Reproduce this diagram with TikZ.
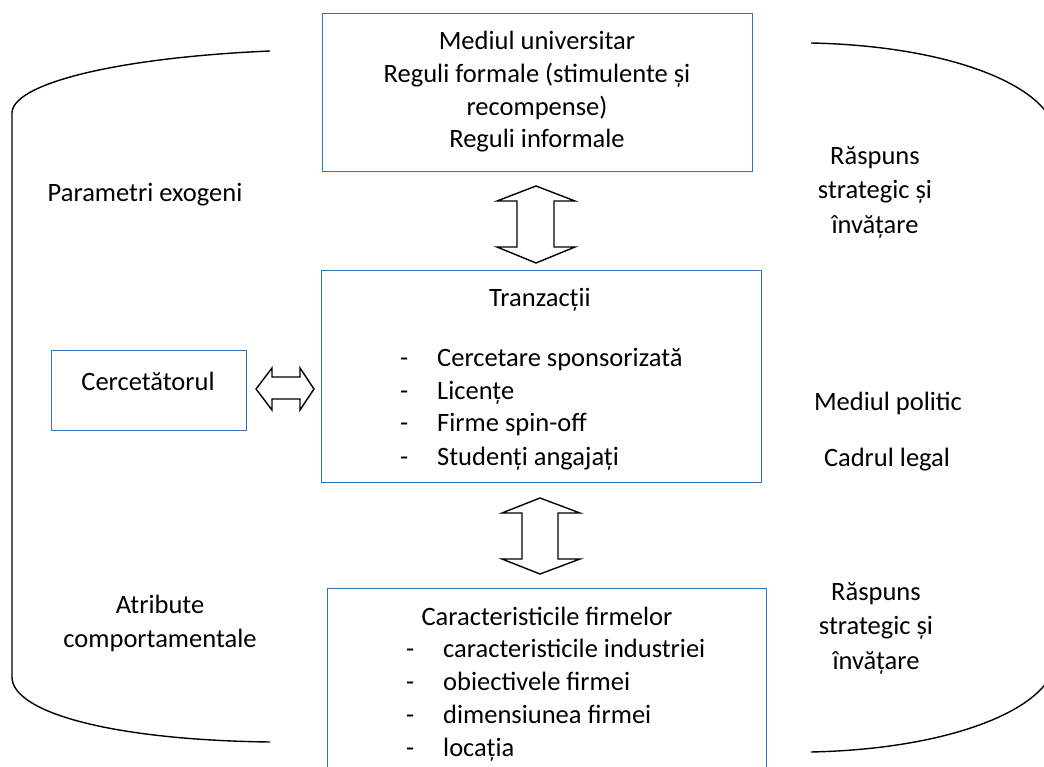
\documentclass[tikz,border=0pt]{standalone}
\usepackage{fontspec}
\setmainfont{Carlito}
\definecolor{boxblue}{RGB}{46,117,182}

\begin{document}
\begin{tikzpicture}[x=1pt, y=-1pt,
	box/.style={draw=boxblue, line width=1pt, anchor=north west},
	txt/.style={inner sep=0pt, align=center, font=\fontsize{26.5}{33}\selectfont},
	bracket/.style={line width=1.4pt},
	blockarrow/.style={draw, line width=1.4pt, fill=white, line join=miter}]
	\useasboundingbox (0,0) rectangle (1044,767);
	\clip (0,0) rectangle (1044,767);
	%\draw[help lines] (0,0) grid[step=50] (1044,767);
	% boxes
	\node[box, minimum width=430, minimum height=158] (univ) at (322,13) {};
	\node[box, minimum width=440, minimum height=212] (tranz) at (321,270) {};
	\node[box, minimum width=195, minimum height=80] (cerc) at (51,350) {};
	\node[box, minimum width=439, minimum height=250] (firme) at (327,588) {};
	% texts
	\node[txt, font=\fontsize{26.5}{32.7}\selectfont] (univtxt) at (537,92) {Mediul universitar\\Reguli formale (stimulente și\\recompense)\\Reguli informale};
	\node[txt] (exogeni) at (145,195) {Parametri exogeni};
	\node[txt, font=\fontsize{26.5}{34.5}\selectfont] (raspuns1) at (875,192) {Răspuns\\strategic și\\învățare};
	\node[txt] (tranztxt) at (540,300) {Tranzacții};
	\node[txt, anchor=base west] (tranzlist) at (400,366) {\begin{tabular}[t]{@{}p{37pt}@{}l@{}}
		-&Cercetare sponsorizată\\
		-&Licențe\\
		-&Firme spin-off\\
		-&Studenți angajați
	\end{tabular}};
	\node[txt] (cerctxt) at (148,381) {Cercetătorul};
	\node[txt] (politic) at (888,403) {Mediul politic};
	\node[txt] (legal) at (887,460) {Cadrul legal};
	\node[txt, font=\fontsize{26.5}{34}\selectfont] (atribute) at (160,623) {Atribute\\comportamentale};
	\node[txt, font=\fontsize{26.5}{34.5}\selectfont] (raspuns2) at (876,628) {Răspuns\\strategic și\\învățare};
	\node[txt] (firmetxt) at (547,616) {Caracteristicile firmelor};
	\node[txt, anchor=base west] (firmelist) at (406,657) {\begin{tabular}[t]{@{}p{37pt}@{}l@{}}
		-&caracteristicile industriei\\
		-&obiectivele firmei\\
		-&dimensiunea firmei\\
		-&locația
	\end{tabular}};
	% brackets
	\draw[bracket] (270,51) .. controls (110,58) and (12,85) .. (12,113) -- (12,677) .. controls (12,712) and (110,740) .. (270,742);
	\draw[bracket] (811,43) .. controls (950,46) and (1045,85) .. (1055,130) -- (1055,665) .. controls (1045,710) and (950,749) .. (811,752);
	% block arrows
	\draw[blockarrow] (536,186) -- (575,201) -- (554,201) -- (554,247) -- (575,247) -- (536,263) -- (497,247) -- (517,247) -- (517,201) -- (497,201) -- cycle;
	\draw[blockarrow] (540,498) -- (580,513) -- (558,513) -- (558,559) -- (580,559) -- (540,574) -- (502,559) -- (522,559) -- (522,513) -- (502,513) -- cycle;
	\draw[blockarrow] (256,389) -- (272,368) -- (272,377) -- (300,377) -- (300,368) -- (314,389) -- (300,410) -- (300,399) -- (272,399) -- (272,410) -- cycle;
\end{tikzpicture}
\end{document}
